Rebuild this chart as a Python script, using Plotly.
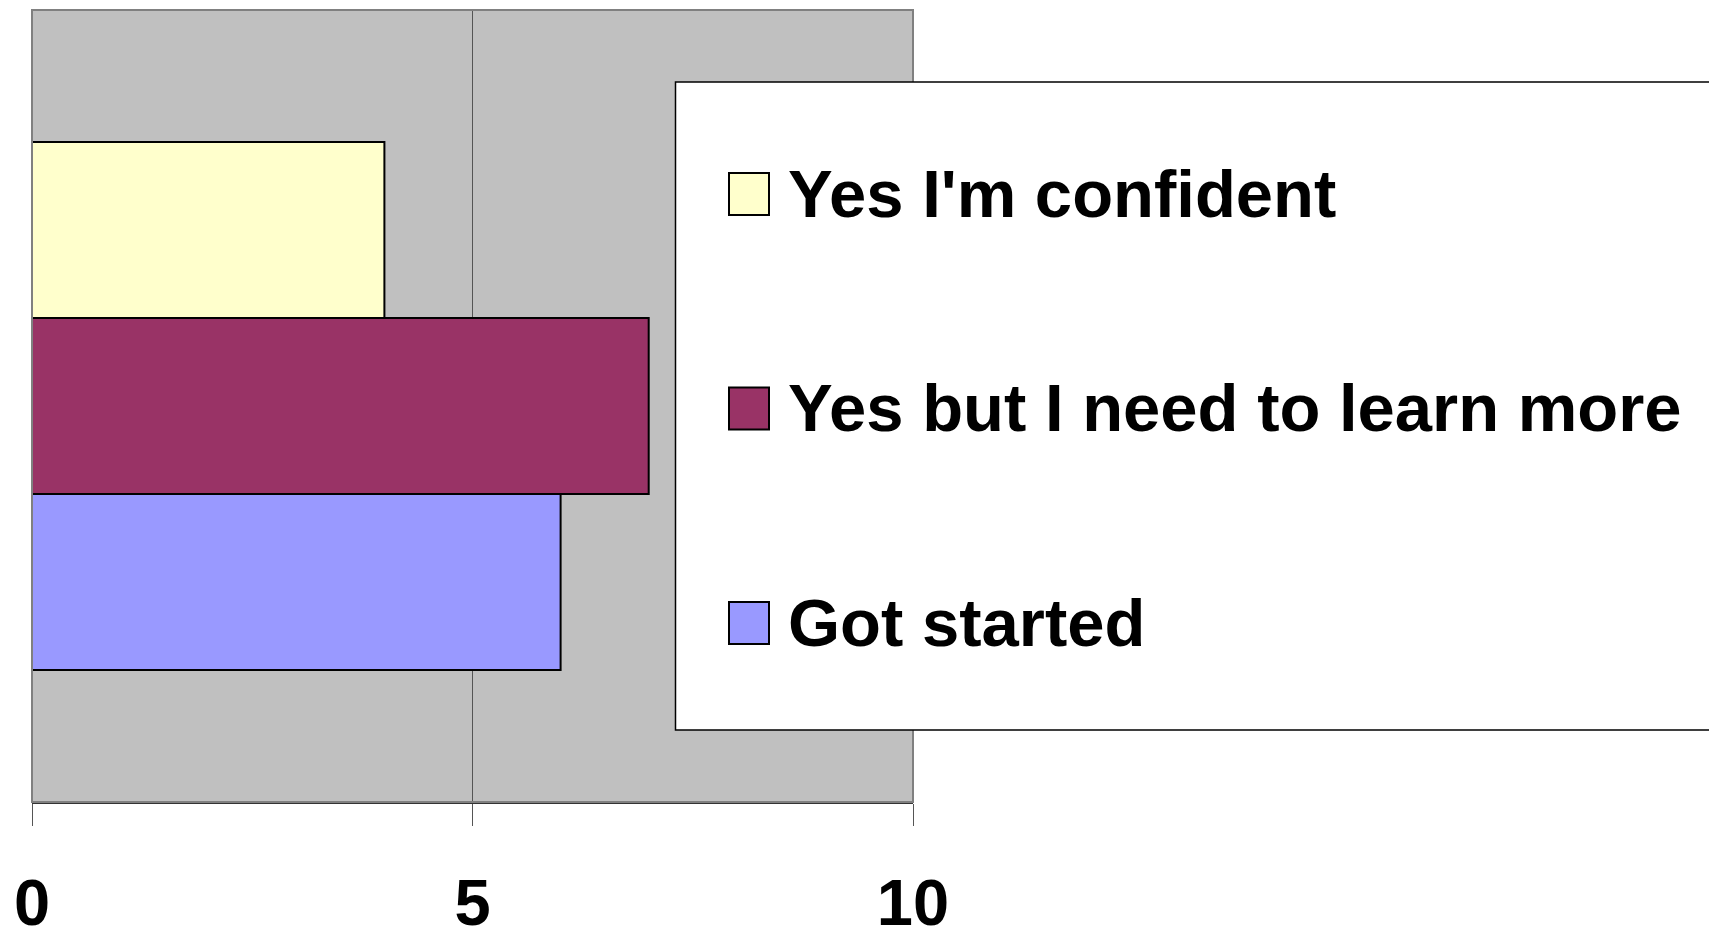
import plotly.graph_objects as go

# ---- data ----
categories = ["Answer"]
series_names = ["Got started", "Yes but I need to learn more", "Yes I'm confident"]
series_values = [6, 7, 4]
series_colors = ["#9999FF", "#993366", "#FFFFCC"]
tick_values = [0, 5, 10]
tick_labels = ["0", "5", "10"]

W, H = 1709, 934
ML, MR, MT, MB = 32, 1709 - 913, 10, 934 - 802
PW, PH = W - ML - MR, H - MT - MB

FONT = "Liberation Sans, Arial, sans-serif"

fig = go.Figure()
for name, val, col in zip(series_names, series_values, series_colors):
    fig.add_trace(go.Bar(
        y=categories, x=[val], name=name, orientation="h",
        marker=dict(color=col, line=dict(color="black", width=2)),
        showlegend=False,
    ))

# convert figure pixel positions to paper coordinates
def px_x(p):
    return (p - ML) / PW

def px_y(p):
    return (H - MB - p) / PH

shapes = [
    dict(type="rect", xref="paper", yref="paper", x0=0, x1=1, y0=0, y1=1,
         line=dict(color="#808080", width=2), layer="above"),
    dict(type="rect", xref="paper", yref="paper",
         x0=px_x(675.5), x1=px_x(1730), y0=px_y(730), y1=px_y(82),
         fillcolor="white", line=dict(color="black", width=1.5), layer="above"),
]
annotations = []
legend_first_center = 194
legend_step = 214.5
for i, (name, col) in enumerate(reversed(list(zip(series_names, series_colors)))):
    cy = legend_first_center + i * legend_step
    shapes.append(dict(type="rect", xref="paper", yref="paper",
                       x0=px_x(729), x1=px_x(769), y0=px_y(cy + 21), y1=px_y(cy - 21),
                       fillcolor=col, line=dict(color="black", width=2), layer="above"))
    annotations.append(dict(xref="paper", yref="paper", x=px_x(786), y=px_y(cy - 1),
                            xanchor="left", yanchor="middle", showarrow=False,
                            text=name, font=dict(family=FONT, size=67, color="black", weight="bold")))

fig.update_layout(
    width=W, height=H,
    margin=dict(l=ML, r=MR, t=MT, b=MB, pad=0, autoexpand=False),
    paper_bgcolor="white", plot_bgcolor="#C0C0C0",
    barmode="group", bargap=1/3, bargroupgap=0,
    showlegend=False,
    shapes=shapes, annotations=annotations,
    xaxis=dict(range=[0, 10], tickvals=tick_values, ticktext=tick_labels,
               automargin=False,
               showgrid=True, gridcolor="#555555", gridwidth=1, zeroline=False,
               showline=True, linecolor="#333333", linewidth=2,
               ticks="outside", ticklen=22, tickcolor="#555555", tickwidth=1,
               ticklabelstandoff=21,
               tickfont=dict(family=FONT, size=65, color="black", weight="bold")),
    yaxis=dict(showticklabels=False, showgrid=False, zeroline=False, ticks="", automargin=False),
)

fig.write_html(
    "out.html",
    config={"displayModeBar": False},
    post_script="document.body.style.margin='0';document.body.style.overflow='hidden';",
)
